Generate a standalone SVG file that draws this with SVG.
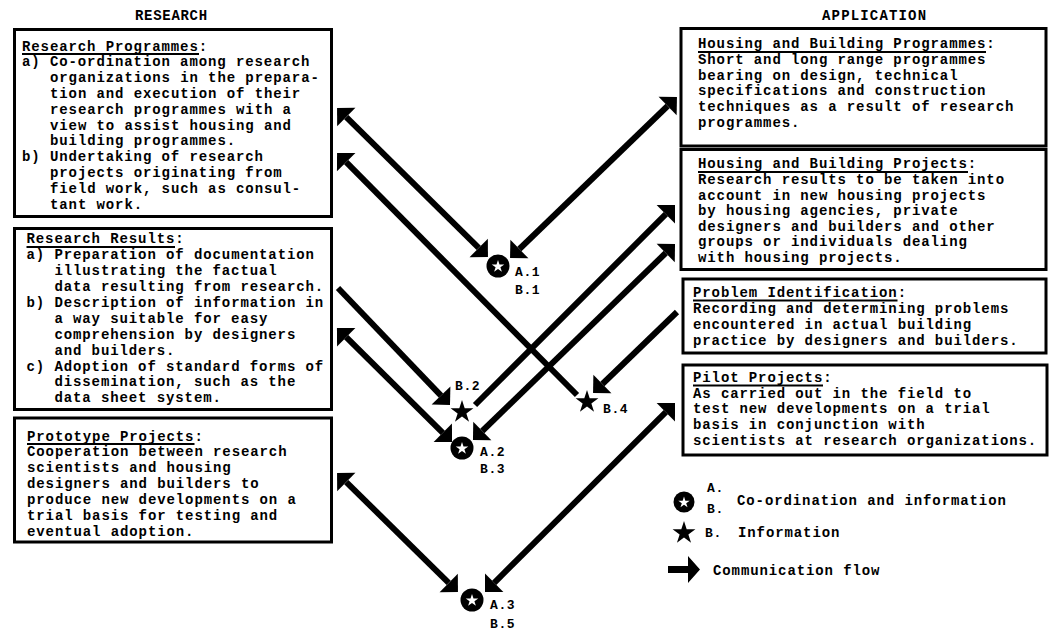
<svg xmlns="http://www.w3.org/2000/svg" width="1055" height="641" viewBox="0 0 1055 641">
<style>
.t{font-family:"Liberation Mono","DejaVu Sans Mono",monospace;font-weight:bold;font-size:14px;letter-spacing:0.9px;fill:#000}
.s{font-size:13px;letter-spacing:0.6px}
.box{fill:#fff;stroke:#000;stroke-width:3}
.ul{stroke:#000;stroke-width:1.8}
.c{fill:none;stroke:#000;stroke-width:6}
.dot{fill:#000}
.ws{fill:#fff}
</style>
<defs>
<marker id="ah" viewBox="0 -13 13 26" refX="0" refY="0" markerWidth="13" markerHeight="26" markerUnits="userSpaceOnUse" orient="auto-start-reverse" overflow="visible">
<path d="M0,-13 L13,0 L0,13 Z" fill="#000"/>
</marker>
<path id="star" d="M0,-12 L2.7,-3.72 L11.41,-3.71 L4.37,1.42 L7.05,9.71 L0,4.6 L-7.05,9.71 L-4.37,1.42 L-11.41,-3.71 L-2.7,-3.72 Z"/>
</defs>
<rect width="1055" height="641" fill="#fff"/>

<g id="titles" class="t">
<text x="135" y="20" textLength="73">RESEARCH</text>
<text x="822" y="20" textLength="105">APPLICATION</text>
</g>

<g id="research-programmes">
<rect class="box" x="14.5" y="29.5" width="317" height="187"/>
<line class="ul" x1="22" y1="54" x2="199" y2="54"/>
<text class="t">
<tspan x="22" y="50.5">Research Programmes:</tspan>
<tspan x="22" y="66.3">a) Co-ordination among research</tspan>
<tspan x="50" y="82.1">organizations in the prepara-</tspan>
<tspan x="50" y="97.9">tion and execution of their</tspan>
<tspan x="50" y="113.7">research programmes with a</tspan>
<tspan x="50" y="129.5">view to assist housing and</tspan>
<tspan x="50" y="145.3">building programmes.</tspan>
<tspan x="22" y="161.1">b) Undertaking of research</tspan>
<tspan x="50" y="176.9">projects originating from</tspan>
<tspan x="50" y="192.7">field work, such as consul-</tspan>
<tspan x="50" y="208.5">tant work.</tspan>
</text>
</g>

<g id="research-results">
<rect class="box" x="14.5" y="228.5" width="317" height="181"/>
<line class="ul" x1="26.5" y1="247" x2="175" y2="247"/>
<text class="t">
<tspan x="26.5" y="243.3">Research Results:</tspan>
<tspan x="26.5" y="259.2">a) Preparation of documentation</tspan>
<tspan x="54.4" y="275.1">illustrating the factual</tspan>
<tspan x="54.4" y="291">data resulting from research.</tspan>
<tspan x="26.5" y="306.9">b) Description of information in</tspan>
<tspan x="54.4" y="322.8">a way suitable for easy</tspan>
<tspan x="54.4" y="338.7">comprehension by designers</tspan>
<tspan x="54.4" y="354.6">and builders.</tspan>
<tspan x="26.5" y="370.5">c) Adoption of standard forms of</tspan>
<tspan x="54.4" y="386.4">dissemination, such as the</tspan>
<tspan x="54.4" y="402.3">data sheet system.</tspan>
</text>
</g>

<g id="prototype-projects">
<rect class="box" x="14.5" y="418" width="317" height="124"/>
<line class="ul" x1="27" y1="444" x2="194.5" y2="444"/>
<text class="t">
<tspan x="27" y="440.5">Prototype Projects:</tspan>
<tspan x="27" y="456.4">Cooperation between research</tspan>
<tspan x="27" y="472.3">scientists and housing</tspan>
<tspan x="27" y="488.2">designers and builders to</tspan>
<tspan x="27" y="504.1">produce new developments on a</tspan>
<tspan x="27" y="520">trial basis for testing and</tspan>
<tspan x="27" y="535.9">eventual adoption.</tspan>
</text>
</g>

<g id="housing-building-programmes">
<rect class="box" x="681" y="28.5" width="365" height="117.5"/>
<line class="ul" x1="698" y1="52" x2="986" y2="52"/>
<text class="t">
<tspan x="698" y="48.3">Housing and Building Programmes:</tspan>
<tspan x="698" y="64">Short and long range programmes</tspan>
<tspan x="698" y="79.7">bearing on design, technical</tspan>
<tspan x="698" y="95.4">specifications and construction</tspan>
<tspan x="698" y="111.1">techniques as a result of research</tspan>
<tspan x="698" y="126.8">programmes.</tspan>
</text>
</g>

<g id="housing-building-projects">
<rect class="box" x="681" y="149.5" width="365" height="120"/>
<line class="ul" x1="698" y1="172" x2="968" y2="172"/>
<text class="t">
<tspan x="698" y="168.3">Housing and Building Projects:</tspan>
<tspan x="698" y="183.9">Research results to be taken into</tspan>
<tspan x="698" y="199.5">account in new housing projects</tspan>
<tspan x="698" y="215.1">by housing agencies, private</tspan>
<tspan x="698" y="230.7">designers and builders and other</tspan>
<tspan x="698" y="246.3">groups or individuals dealing</tspan>
<tspan x="698" y="261.9">with housing projects.</tspan>
</text>
</g>

<g id="problem-identification">
<rect class="box" x="683" y="279" width="363" height="74"/>
<line class="ul" x1="693" y1="300.5" x2="897.5" y2="300.5"/>
<text class="t">
<tspan x="693" y="296.7">Problem Identification:</tspan>
<tspan x="693" y="312.7">Recording and determining problems</tspan>
<tspan x="693" y="328.7">encountered in actual building</tspan>
<tspan x="693" y="344.7">practice by designers and builders.</tspan>
</text>
</g>

<g id="pilot-projects">
<rect class="box" x="683" y="365" width="364" height="90"/>
<line class="ul" x1="693" y1="385.5" x2="823" y2="385.5"/>
<text class="t">
<tspan x="693" y="381.7">Pilot Projects:</tspan>
<tspan x="693" y="397.5">As carried out in the field to</tspan>
<tspan x="693" y="413.3">test new developments on a trial</tspan>
<tspan x="693" y="429.1">basis in conjunction with</tspan>
<tspan x="693" y="445">scientists at research organizations.</tspan>
</text>
</g>

<g id="connectors">
<line class="c" x1="346.3" y1="117.1" x2="478.7" y2="247.9" marker-start="url(#ah)" marker-end="url(#ah)"/>
<line class="c" x1="577" y1="395" x2="346.2" y2="162.2" marker-end="url(#ah)"/>
<line class="c" x1="667.6" y1="106" x2="519.4" y2="249" marker-start="url(#ah)" marker-end="url(#ah)"/>
<line class="c" x1="475" y1="405" x2="665.8" y2="214.2" marker-end="url(#ah)"/>
<line class="c" x1="665.7" y1="253" x2="482.3" y2="431" marker-start="url(#ah)" marker-end="url(#ah)"/>
<line class="c" x1="338" y1="288" x2="441" y2="395.6" marker-end="url(#ah)"/>
<line class="c" x1="346.2" y1="337.2" x2="442.8" y2="432.8" marker-start="url(#ah)" marker-end="url(#ah)"/>
<line class="c" x1="677" y1="312" x2="602.4" y2="384" marker-end="url(#ah)"/>
<line class="c" x1="346.3" y1="482.1" x2="448.7" y2="582.9" marker-start="url(#ah)" marker-end="url(#ah)"/>
<line class="c" x1="665.8" y1="412.2" x2="494.2" y2="582.8" marker-start="url(#ah)" marker-end="url(#ah)"/>
</g>

<g id="A1">
<circle class="dot" cx="498" cy="266" r="11.5"/>
<use href="#star" class="ws" transform="translate(498,266.5) scale(0.55)"/>
<text class="t s"><tspan x="515" y="276">A.1</tspan><tspan x="515" y="294">B.1</tspan></text>
</g>
<g id="B2">
<use href="#star" class="dot" transform="translate(462,412)"/>
<text class="t s" x="455" y="390">B.2</text>
</g>
<g id="A2">
<circle class="dot" cx="462" cy="448" r="11.5"/>
<use href="#star" class="ws" transform="translate(462,448.5) scale(0.55)"/>
<text class="t s"><tspan x="480" y="456">A.2</tspan><tspan x="480" y="473">B.3</tspan></text>
</g>
<g id="B4">
<use href="#star" class="dot" transform="translate(587,402)"/>
<text class="t s" x="603" y="413">B.4</text>
</g>
<g id="A3">
<circle class="dot" cx="472" cy="600" r="11.5"/>
<use href="#star" class="ws" transform="translate(472,600.5) scale(0.55)"/>
<text class="t s"><tspan x="490" y="609">A.3</tspan><tspan x="490" y="628">B.5</tspan></text>
</g>

<g id="legend">
<circle class="dot" cx="684" cy="502" r="10.5"/>
<use href="#star" class="ws" transform="translate(684,502.5) scale(0.5)"/>
<text class="t s"><tspan x="707" y="492">A.</tspan><tspan x="707" y="513">B.</tspan></text>
<text class="t" x="737" y="505">Co-ordination and information</text>
<use href="#star" class="dot" transform="translate(684,533)"/>
<text class="t"><tspan class="s" x="705" y="537">B.</tspan><tspan x="738" y="537">Information</tspan></text>
<path d="M668,566 L688,566 L688,556 L700,569.5 L688,583 L688,573 L668,573 Z" fill="#000"/>
<text class="t" x="713" y="575">Communication flow</text>
</g>
</svg>
